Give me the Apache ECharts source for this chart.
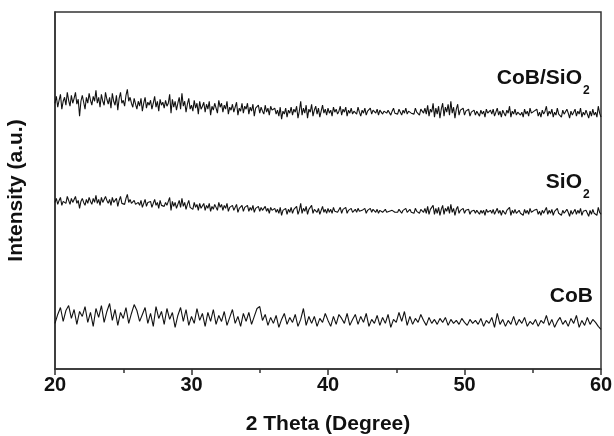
<!DOCTYPE html>
<html>
<head>
<meta charset="utf-8">
<script src="https://cdn.jsdelivr.net/npm/echarts@6/dist/echarts.min.js"></script>
<style>
html,body{margin:0;padding:0;background:#fff;}
#chart{width:614px;height:436px;}
</style>
</head>
<body>
<div id="chart"></div>
<script>
// x-axis (2 Theta) sampling
const xStart = 20;
const stepFine = 0.1;   // CoB/SiO2 and SiO2
const stepCoarse = 0.2; // CoB
const xTicks = [20, 30, 40, 50, 60];

// Intensity (a.u.)
const cobSio2 = [
268,275,264,271,277,262,270,274,266,279,
271,265,276,268,273,279,267,272,255,270,
276,269,262,274,268,278,271,266,275,270,
281,268,274,264,277,270,266,279,272,267,
274,263,278,270,266,276,261,273,279,268,
271,265,276,282,270,274,268,264,273,267,
262,270,265,273,260,268,274,263,269,266,
271,262,268,275,264,270,260,272,266,269,
263,271,265,268,277,258,272,264,270,261,
268,274,262,278,265,270,259,267,273,262,
266,260,271,263,268,257,270,262,265,269,
259,267,262,270,256,265,261,268,263,258,
271,264,268,259,266,262,270,257,264,261,
267,259,264,269,256,263,260,268,258,265,
262,268,257,264,260,267,255,263,261,266,
258,264,260,257,266,259,263,256,265,261,
259,263,257,261,255,264,252,260,257,263,
254,261,258,264,256,262,259,265,253,260,
270,256,263,258,266,253,262,259,267,255,
261,265,257,263,254,260,266,258,262,256,
263,258,261,255,264,259,262,257,260,265,
256,262,259,264,255,261,258,263,257,260,
262,257,264,259,255,261,258,263,256,260,
259,263,257,261,260,258,262,256,261,259,
257,260,262,258,261,259,256,260,263,258,
260,257,262,259,256,261,258,263,257,260,
262,258,260,257,263,259,261,256,262,260,
258,263,257,266,255,262,259,268,254,263,
257,265,253,262,268,255,264,259,267,256,
270,258,264,253,262,267,256,261,259,263,
256,260,258,262,255,259,257,261,256,260,
258,255,261,257,260,254,262,258,256,261,
257,262,255,259,263,256,260,254,261,258,
255,261,258,265,254,260,257,262,256,259,
261,256,259,254,262,257,260,255,263,258,
256,260,258,262,255,259,254,261,257,260,
265,255,260,257,262,254,259,256,263,257,
259,254,261,257,255,262,258,253,260,256,
258,262,255,260,257,263,254,259,256,261,
257,253,260,255,262,256,259,254,265,258,
254
];

const sio2 = [
168,172,166,170,173,165,169,171,167,174,
170,166,172,168,171,174,167,170,162,169,
172,168,165,171,167,173,169,166,172,168,
175,167,171,165,173,168,166,174,170,167,
171,165,173,168,166,172,164,170,174,167,
169,166,172,176,168,171,167,165,170,166,
164,168,165,170,163,167,171,164,168,166,
169,163,167,171,165,168,162,170,165,167,
164,168,165,167,173,160,169,164,168,162,
166,170,163,172,164,168,161,166,170,163,
165,161,168,163,166,160,167,162,164,167,
160,165,162,167,159,164,161,166,163,160,
168,163,166,160,165,162,167,159,163,161,
165,160,163,166,158,162,160,165,159,163,
161,165,159,163,160,165,158,162,160,164,
159,163,160,158,164,159,162,157,163,160,
160,162,158,161,157,163,155,160,158,162,
156,161,158,163,157,161,159,164,156,160,
167,157,162,159,164,156,161,159,165,157,
161,163,158,162,156,160,164,158,161,157,
162,158,161,157,163,159,161,158,160,163,
157,161,159,163,157,160,158,162,158,160,
161,158,162,159,157,160,158,162,157,160,
159,162,158,161,160,158,161,157,160,159,
158,160,161,158,160,159,157,160,162,158,
160,158,161,159,157,160,158,162,158,160,
161,158,160,157,162,159,160,157,161,160,
158,162,157,164,156,161,159,165,156,162,
157,163,155,161,165,156,162,159,164,157,
166,158,162,155,161,164,157,160,159,162,
157,160,158,161,156,159,157,160,157,160,
158,156,160,157,160,155,161,158,157,160,
157,161,156,159,162,157,160,155,160,158,
156,160,158,163,155,160,157,161,157,159,
160,157,159,155,161,157,160,156,162,158,
157,160,158,161,156,159,155,160,157,160,
163,156,160,157,161,155,159,157,162,157,
159,155,160,157,156,161,158,154,160,156,
158,161,156,160,157,162,155,159,157,160,
157,154,160,156,161,157,159,155,163,158,
156
];

const cob = [
46,55,62,48,59,
64,51,60,45,58,
53,63,47,57,43,
61,52,64,47,58,
66,49,60,44,57,
51,62,46,56,65,
59,48,55,62,46,
56,43,63,51,58,
45,61,50,57,42,
54,62,48,60,44,
53,46,61,49,56,
43,57,48,60,45,
54,48,58,44,52,
60,46,53,43,56,
48,57,45,53,61,
63,49,55,44,52,
46,54,42,50,56,
45,52,47,55,43,
50,61,44,53,46,
53,43,51,47,56,
49,43,53,45,55,
51,46,56,44,50,
55,45,53,47,56,
43,50,46,54,44,
52,46,55,42,50,
47,57,48,58,44,
53,45,51,47,55,
49,44,52,46,50,
45,51,47,52,44,
50,46,49,45,51,
47,44,50,46,49,
45,51,43,49,46,
52,42,56,45,50,
43,49,45,53,44,
50,46,52,43,48,
45,50,43,49,46,
54,44,50,42,48,
52,45,49,43,51,
46,54,42,49,44,
52,45,50,47,43,
40
];

const seriesNames = ['CoB/SiO', 'SiO', 'CoB'];

function pairs(arr, step) {
  return arr.map((v, i) => [+(xStart + i * step).toFixed(2), v]);
}

const FONT = '"Liberation Sans", Arial, Helvetica, sans-serif';
const chart = echarts.init(document.getElementById('chart'), null, {renderer: 'canvas'});

const lineStyle = {color: '#111', width: 1.1};

chart.setOption({
  animation: false,
  backgroundColor: '#fff',
  grid: {left: 55, right: 13, top: 12, bottom: 67, outerBoundsMode: 'none', containLabel: false,
    show: true, borderColor: '#333', borderWidth: 1.5},
  xAxis: {
    type: 'value', min: 20, max: 60, interval: 10,
    axisLine: {show: true, lineStyle: {color: '#333', width: 1.5}},
    axisTick: {show: true, inside: false, length: 6, lineStyle: {color: '#333', width: 1.5}},
    minorTick: {show: true, splitNumber: 2, length: 4, lineStyle: {color: '#333', width: 1.5}},
    splitLine: {show: false},
    axisLabel: {color: '#111', fontFamily: FONT, fontWeight: 'bold', fontSize: 20, margin: 6,
      formatter: v => xTicks.includes(v) ? String(v) : ''},
    name: '2 Theta (Degree)', nameLocation: 'middle', nameGap: 45,
    nameTextStyle: {color: '#111', fontFamily: FONT, fontWeight: 'bold', fontSize: 21}
  },
  yAxis: {
    type: 'value', min: 0, max: 360,
    axisLine: {show: true, lineStyle: {color: '#333', width: 1.5}},
    axisTick: {show: false}, axisLabel: {show: false}, splitLine: {show: false},
    name: 'Intensity (a.u.)', nameLocation: 'middle', nameGap: 28, nameRotate: 90,
    nameTextStyle: {color: '#111', fontFamily: FONT, fontWeight: 'bold', fontSize: 21}
  },
  series: [
    {name: seriesNames[0], type: 'line', showSymbol: false, data: pairs(cobSio2, stepFine), lineStyle},
    {name: seriesNames[1], type: 'line', showSymbol: false, data: pairs(sio2, stepFine), lineStyle},
    {name: seriesNames[2], type: 'line', showSymbol: false, data: pairs(cob, stepCoarse), lineStyle}
  ],
  graphic: [
    {type: 'text', right: 32, top: 68, style: {text: 'CoB/SiO', font: 'bold 21px ' + FONT, fill: '#111'}},
    {type: 'text', left: 583, top: 85, style: {text: '2', font: 'bold 12px ' + FONT, fill: '#111'}},
    {type: 'text', right: 32, top: 172, style: {text: 'SiO', font: 'bold 21px ' + FONT, fill: '#111'}},
    {type: 'text', left: 583, top: 189, style: {text: '2', font: 'bold 12px ' + FONT, fill: '#111'}},
    {type: 'text', right: 21, top: 286, style: {text: 'CoB', font: 'bold 21px ' + FONT, fill: '#111'}}
  ]
});
</script>
</body>
</html>
